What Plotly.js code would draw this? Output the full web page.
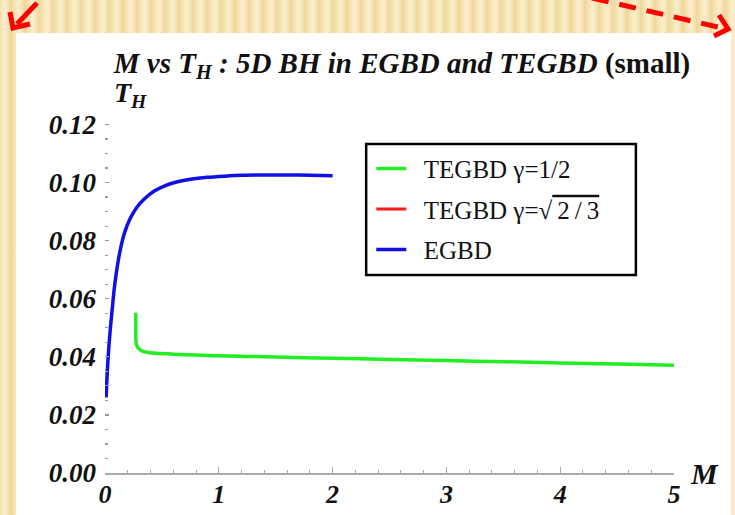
<!DOCTYPE html>
<html>
<head>
<meta charset="utf-8">
<script src="https://cdn.plot.ly/plotly-3.0.1.min.js"></script>
<style>
  html, body { margin: 0; padding: 0; }
  body {
    width: 735px; height: 515px; overflow: hidden; position: relative;
    background: repeating-linear-gradient(90deg, #f6e2ad 0px, #fcefd0 5px, #efd69b 11px, #f6e2ad 14px);
  }
  #panel { position: absolute; left: 16px; top: 33px; width: 715px; height: 482px; background: #ffffff; }
  #plot { position: absolute; left: 0; top: 0; width: 735px; height: 515px; }
  #deco { position: absolute; left: 0; top: 0; }
</style>
</head>
<body>
<div id="panel"></div>
<div id="plot"></div>
<svg id="deco" width="735" height="515">
  <line x1="37" y1="3" x2="17" y2="24" stroke="#ff0000" stroke-width="5"/>
  <polyline points="10,12 13,28 30,24" fill="none" stroke="#ff0000" stroke-width="5"/>
  <line x1="592" y1="-2" x2="722" y2="28" stroke="#ff0000" stroke-width="5" stroke-dasharray="17,11"/>
  <polyline points="719,15 728,29 714,36" fill="none" stroke="#ff0000" stroke-width="5"/>
</svg>
<script>
// EGBD (blue)
const egbdM = [0.01, 0.02, 0.035, 0.05, 0.065, 0.08, 0.1, 0.13, 0.17, 0.22, 0.28, 0.35, 0.43, 0.52, 0.62, 0.75, 0.9, 1.05, 1.2, 1.4, 1.6, 1.8, 2.0];
const egbdT = [0.026, 0.035, 0.044, 0.051, 0.057, 0.063, 0.069, 0.076, 0.0825, 0.0875, 0.0915, 0.0945, 0.097, 0.0988, 0.1001, 0.1011, 0.1018, 0.1022, 0.1025, 0.1026, 0.1026, 0.1025, 0.1023];
// TEGBD gamma = 1/2 (green)
const tegbdHalfM = [0.27, 0.27, 0.272, 0.28, 0.3, 0.33, 0.38, 0.45, 0.6, 0.8, 1.0, 1.5, 2.0, 2.5, 3.0, 3.5, 4.0, 4.5, 5.0];
const tegbdHalfT = [0.0552, 0.048, 0.0455, 0.0438, 0.0427, 0.0420, 0.0415, 0.0412, 0.0409, 0.0406, 0.0404, 0.0399, 0.0395, 0.0391, 0.0387, 0.0383, 0.0379, 0.0375, 0.0371];
// TEGBD gamma = sqrt(2/3) (red) - not visible in the plot
const tegbdSqrtM = [null];
const tegbdSqrtT = [null];

const legendNames = [
  '\u2002TEGBD \u03b3=1/2',
  '\u2002TEGBD \u03b3=\u221a<span style="text-decoration:overline">\u20092\u2009/\u20093</span>',
  '\u2002EGBD'
];
const xTicks = [0, 1, 2, 3, 4, 5];
const yTicks = [0.00, 0.02, 0.04, 0.06, 0.08, 0.10, 0.12];
const yTickText = ['0.00', '0.02', '0.04', '0.06', '0.08', '0.10', '0.12'];

const serif = 'Liberation Serif, Times New Roman, serif';

const traces = [
  {x: tegbdSqrtM, y: tegbdSqrtT, name: legendNames[1], mode: 'lines', line: {color: '#ff1a1a', width: 3}, legendgroup: 'b', legendrank: 2},
  {x: tegbdHalfM, y: tegbdHalfT, name: legendNames[0], mode: 'lines', line: {color: '#22ee22', width: 3.5, shape: 'spline', smoothing: 0.6}, legendgroup: 'a', legendrank: 1},
  {x: egbdM, y: egbdT, name: legendNames[2], mode: 'lines', line: {color: '#1010e6', width: 3.5, shape: 'spline', smoothing: 0.8}, legendgroup: 'c', legendrank: 3}
];

const tickFont = {family: serif, size: 27, color: '#111', weight: 'bold', style: 'italic'};

const layout = {
  width: 735, height: 515,
  margin: {l: 105, r: 61, t: 123, b: 42},
  paper_bgcolor: 'rgba(0,0,0,0)',
  plot_bgcolor: 'rgba(0,0,0,0)',
  showlegend: true,
  title: {
    text: '<b><i>M vs T<sub>H</sub> : 5D BH in EGBD and TEGBD</i> (small)</b>',
    font: {family: serif, size: 29, color: '#111'},
    xref: 'container', yref: 'container', x: 0.547, y: 0.878, xanchor: 'center', yanchor: 'middle'
  },
  xaxis: {
    range: [0, 5.0], tickvals: xTicks, ticktext: xTicks.map(String),
    showgrid: false, zeroline: false, showline: true, linecolor: '#aaaaaa', linewidth: 1.5,
    ticks: 'inside', ticklen: 6, tickcolor: '#aaaaaa', tickwidth: 1,
    minor: {dtick: 0.2, ticks: 'inside', ticklen: 3, tickcolor: '#aaaaaa', showgrid: false},
    tickfont: {family: serif, size: 26, color: '#111', weight: 'bold', style: 'italic'}, ticklabelstandoff: -3
  },
  yaxis: {
    range: [0, 0.1205], tickvals: yTicks, ticktext: yTickText,
    showgrid: false, zeroline: false, showline: false,
    ticks: 'inside', ticklen: 4, tickcolor: '#999999', tickwidth: 1.2,
    minor: {dtick: 0.005, ticks: 'inside', ticklen: 3, tickcolor: '#999999', tickwidth: 1.2, showgrid: false},
    tickfont: tickFont, ticklabelstandoff: 8
  },
  legend: {
    x: 0.468, y: 0.935, xanchor: 'left', yanchor: 'top',
    bgcolor: 'rgba(0,0,0,0)', borderwidth: 0,
    font: {family: serif, size: 25, color: '#111'},
    tracegroupgap: 5, traceorder: 'grouped'
  },
  shapes: [
    {type: 'rect', xref: 'paper', yref: 'paper', x0: 0.459, x1: 0.933, y0: 0.566, y1: 0.94,
     line: {color: '#000', width: 2.5}, fillcolor: 'rgba(0,0,0,0)'}
  ],
  annotations: [
    {text: '<b><i>T<sub>H</sub></i></b>', xref: 'paper', yref: 'paper', x: 0.012, y: 1.025, xanchor: 'left', yanchor: 'bottom',
     showarrow: false, font: {family: serif, size: 28, color: '#111'}},
    {text: '<b><i>M</i></b>', xref: 'paper', yref: 'paper', x: 1.025, y: 0.0, xanchor: 'left', yanchor: 'middle',
     showarrow: false, font: {family: serif, size: 30, color: '#111'}}
  ]
};

Plotly.newPlot('plot', traces, layout, {staticPlot: true, displayModeBar: false});
</script>
</body>
</html>
